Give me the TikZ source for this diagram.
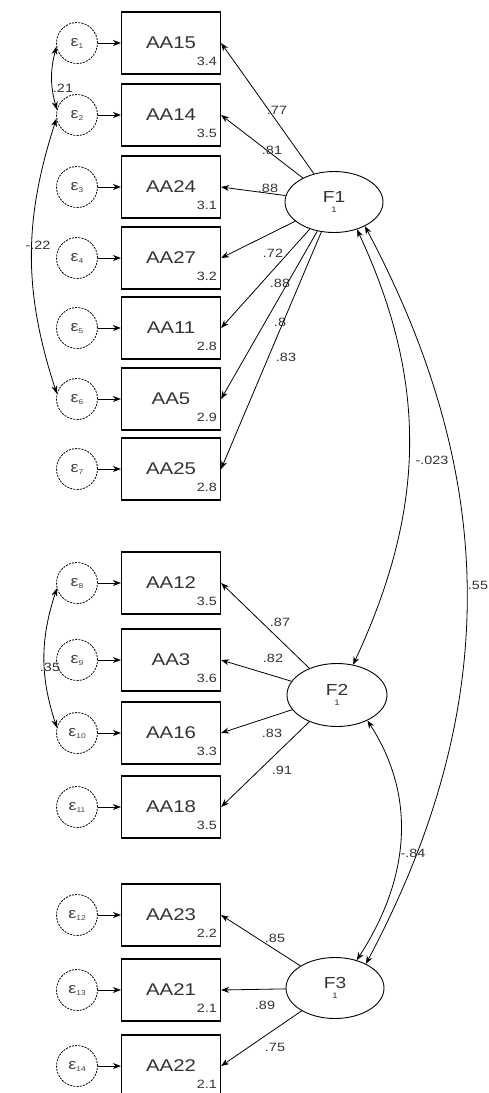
\documentclass[tikz,border=0pt]{standalone}
\usepackage{fontspec}
\setmainfont{Liberation Sans}[FakeStretch=1.2]
\usepackage{xcolor}
\usepackage{tikz}
\usetikzlibrary{arrows.meta, shapes.geometric}

\newcommand{\fsz}[1]{\fontsize{#1}{#1}\selectfont}
\newcommand{\errtext}[1]{ε\raisebox{-2pt}{\fsz{7}#1}}

\begin{document}
\begin{tikzpicture}[x=1pt, y=-1pt, >={Stealth[length=8pt,width=6pt]},
  obs/.style={draw, line width=1.2pt, minimum width=99pt, minimum height=62pt, inner sep=0pt, font=\fsz{17}, text=black!80},
  err/.style={draw, circle, dash pattern=on 2pt off 1.2pt, line width=0.8pt, minimum size=41pt, inner sep=0pt, font=\fsz{15}, text=black!75},
  lat/.style={draw, ellipse, line width=0.9pt, minimum width=98pt, minimum height=61pt, inner sep=0pt, align=center, font=\fsz{16}, text=black!80},
  coef/.style={font=\fsz{12}, inner sep=0pt, text=black!80},
  sub/.style={font=\fsz{12}, inner sep=0pt, anchor=base east, text=black!80},
  load/.style={->, line width=0.8pt},
  cov/.style={<->, line width=0.8pt}]
  \useasboundingbox (0,0) rectangle (488,1093);

  % items, their means and error terms
  \foreach \n/\y/\v/\e in {15/43/3.4/1, 14/115/3.5/2, 24/187/3.1/3, 27/258/3.2/4,
      11/328/2.8/5, 5/399/2.9/6, 25/469/2.8/7, 12/583/3.5/8, 3/660/3.6/9,
      16/733/3.3/10, 18/807/3.5/11, 23/915/2.2/12, 21/990/2.1/13, 22/1066/2.1/14} {
    \node[obs] (aa\n) at (171,\y) {\raisebox{-5pt}{AA\n}};
    \node[sub] (v\n) at ([xshift=-4pt, yshift=9pt]aa\n.south east) {\v};
    \node[err] (e\e) at (77,\y) {\errtext{\e}};
    \draw[load] (e\e) -- (aa\n);
  }

  % factors
  \node[lat] (F1) at (334,202) {F1\\[-6pt]{\fsz{8}1}};
  \node[lat, minimum width=100pt, minimum height=63pt] (F2) at (337,695) {F2\\[-6pt]{\fsz{8}1}};
  \node[lat] (F3) at (335,988) {F3\\[-6pt]{\fsz{8}1}};

  % loadings
  \foreach \f/\n/\c/\x/\y in {F1/15/.77/277/110, F1/14/.81/272/150, F1/24/.88/268/188,
      F1/27/.72/273/253, F1/11/.88/280/283, F1/5/.8/280/322, F1/25/.83/286/357,
      F2/12/.87/280/622, F2/3/.82/273/658, F2/16/.83/272/733, F2/18/.91/282/770,
      F3/23/.85/275/938, F3/21/.89/265/1005, F3/22/.75/275/1047} {
    \draw[load] (\f) -- (aa\n.east);
    \node[coef] (c\n) at (\x,\y) {\c};
  }

  % error covariances
  \draw[cov] (e1.190) to[bend right=15] (e2.165);
  \node[coef] (r12) at (63,88) {.21};
  \draw[cov] (e2.190) to[bend right=18] (e6.165);
  \node[coef] (r26) at (38,245) {-.22};
  \draw[cov] (e8.195) to[bend right=18] (e10.165);
  \node[coef] (r810) at (50,667) {.35};

  % factor covariances
  \draw[cov] (F1.-50) to[out=-65, in=65] (F2.62);
  \node[coef] (rf12) at (432,460) {-.023};
  \draw[cov] (F1.-38) to[out=-62, in=62] (F3.38);
  \node[coef] (rf13) at (478,585) {.55};
  \draw[cov] (F2.-40) to[out=-57, in=57] (F3.52);
  \node[coef] (rf23) at (413,853) {-.84};
\end{tikzpicture}
\end{document}
